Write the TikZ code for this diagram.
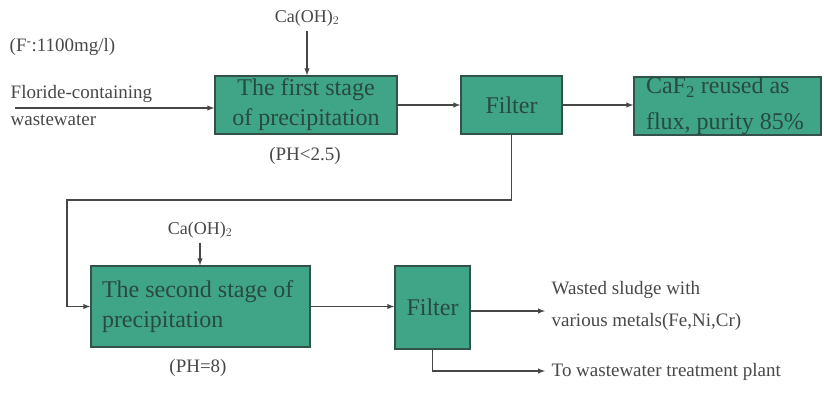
\documentclass[tikz,border=0pt]{standalone}
\usepackage{fontspec}
\setmainfont{Liberation Serif}
\usepackage{tikz}
\usetikzlibrary{arrows,positioning}
\usepackage{xcolor}
\definecolor{tankfill}{HTML}{40A487}
\definecolor{tankline}{HTML}{34524A}
\definecolor{tanktext}{HTML}{284A3F}
\definecolor{pipe}{HTML}{474747}

\begin{document}
\begin{tikzpicture}[x=1pt, y=-1pt, line width=1.4pt]
\useasboundingbox (0,0) rectangle (824,405);
\tikzstyle{every node} = [inner sep=0pt, text=pipe, font=\fontsize{19}{32}\selectfont]
\tikzstyle{tank} = [draw=tankline, fill=tankfill, text=tanktext, font=\fontsize{24}{30}\selectfont]
\node[tank, minimum width=182, minimum height=58, align=center] (stage1) at (306,105) {The first stage\\of precipitation};
\node[tank, minimum width=101, minimum height=58] (filter1) at (511.5,105) {Filter};
\node[tank, minimum width=187, minimum height=58, align=flush left, text width=175, inner xsep=6pt, inner ysep=0pt, font=\fontsize{24}{36}\selectfont] (caf) at (727.5,106) {\hspace*{6pt}CaF\textsubscript{2} reused as\\\hspace*{6pt}flux, purity 85\%};
\node[tank, minimum width=219, minimum height=81, align=flush left, text width=207, inner xsep=6pt] (stage2) at (200.5,306.5) {\hspace*{5pt}The second stage of\\\hspace*{5pt}precipitation};
\node[tank, minimum width=75, minimum height=83] (filter2) at (432.5,307.5) {Filter};
\node[font=\fontsize{18}{20}\selectfont] (lime1) at (307,18) {Ca(OH)$_2$};
\node[font=\fontsize{18}{20}\selectfont] (lime2) at (200,230) {Ca(OH)$_2$};
\node[anchor=west] (conc) at (9,47) {(F\textsuperscript{-}:1100mg/l)};
\node[anchor=west] (feed1) at (10,94) {Floride-containing};
\node[anchor=west] (feed2) at (10,120) {wastewater};
\node (ph1) at (305,156) {(PH<2.5)};
\node (ph2) at (198,368) {(PH=8)};
\node[anchor=west, align=left] (sludge) at (551,306) {Wasted sludge with\\various metals(Fe,Ni,Cr)};
\node[anchor=west] (plant) at (551,372) {To wastewater treatment plant};
\coordinate (feed) at (15,108);
\coordinate (turn) at (67,200);
\coordinate (sludgein) at (545,311);
\coordinate (plantin) at (545,371);
\draw[pipe, -latex] (feed) -- (stage1.west |- feed);
\draw[pipe, -latex] (lime1.south) ++(0,4) -- (stage1.north -| lime1);
\draw[pipe, -latex] (stage1) -- (filter1);
\draw[pipe, -latex] (filter1) -- (caf.west |- filter1);
\draw[pipe, -latex] (filter1.south) |- (turn) |- (stage2.west);
\draw[pipe, -latex] (lime2.south) ++(0,4) -- (stage2.north -| lime2);
\draw[pipe, -latex] (stage2) -- (filter2.west |- stage2);
\draw[pipe, -latex] (filter2.east |- sludgein) -- (sludgein);
\draw[pipe, -latex] (filter2.south) |- (plantin);
\end{tikzpicture}
\end{document}
